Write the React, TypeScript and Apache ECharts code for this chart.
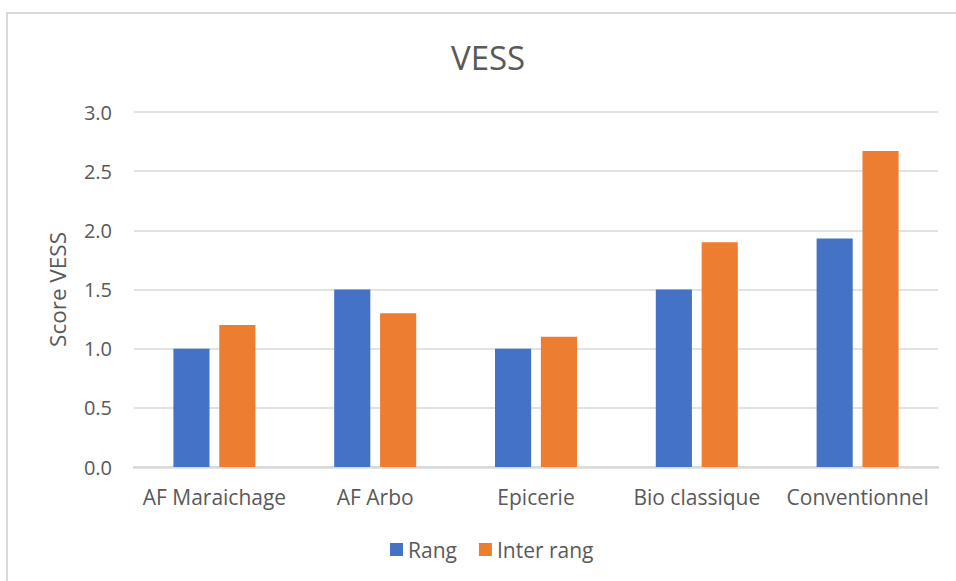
import React, { useEffect, useRef } from "react";
import * as echarts from "echarts";

const categories = ["AF Maraichage", "AF Arbo", "Epicerie", "Bio classique", "Conventionnel"];
const rangValues = [1.0, 1.5, 1.0, 1.5, 1.93];
const interRangValues = [1.2, 1.3, 1.1, 1.9, 2.67];
const seriesNames = ["Rang", "Inter rang"];
const titleText = "VESS";
const yAxisName = "Score VESS";

const FONT = "'Open Sans', 'Noto Sans', sans-serif";
const TEXT = "#595959";
const GRID = "#d9d9d9";

export default function App() {
  const ref = useRef<HTMLDivElement>(null);
  useEffect(() => {
    if (!ref.current) return;
    const chart = echarts.init(ref.current, undefined, { renderer: "svg" });
    chart.setOption({
      animation: false,
      backgroundColor: "#ffffff",
      textStyle: { fontFamily: FONT, color: TEXT },
      title: {
        text: titleText,
        left: 446,
        top: 36,
        textStyle: { fontFamily: FONT, fontSize: 33, fontWeight: "normal", color: TEXT },
      },
      graphic: [
        {
          type: "rect",
          shape: { x: 7, y: 13, width: 1200, height: 1200 },
          style: { fill: "none", stroke: GRID, lineWidth: 2 },
          silent: true,
        },
      ],
      legend: {
        bottom: 16,
        left: 385,
        itemWidth: 13,
        itemHeight: 13,
        itemGap: 22,
        icon: "rect",
        textStyle: { fontFamily: FONT, fontSize: 21, color: TEXT },
        data: seriesNames,
      },
      grid: { left: 134, right: 18, top: 112, bottom: 114 },
      xAxis: {
        type: "category",
        data: categories,
        axisLine: { show: true, lineStyle: { color: GRID, width: 2.5 } },
        axisTick: { show: false },
        axisLabel: { fontFamily: FONT, fontSize: 21, color: TEXT, margin: 19, interval: 0 },
      },
      yAxis: {
        type: "value",
        min: 0,
        max: 3,
        interval: 0.5,
        name: yAxisName,
        nameLocation: "middle",
        nameRotate: 90,
        nameGap: 65,
        nameTextStyle: { fontFamily: FONT, fontSize: 22.5, color: TEXT },
        axisLine: { show: false },
        axisTick: { show: false },
        axisLabel: {
          fontFamily: FONT,
          fontSize: 20,
          color: TEXT,
          margin: 22,
          formatter: (v: number) => v.toFixed(1),
        },
        splitLine: { lineStyle: { color: GRID, width: 1.5 } },
      },
      series: [
        {
          name: seriesNames[0],
          type: "bar",
          data: rangValues,
          barGap: "27%",
          barCategoryGap: "49%",
          itemStyle: { color: "#4472C4" },
        },
        {
          name: seriesNames[1],
          type: "bar",
          data: interRangValues,
          barGap: "27%",
          barCategoryGap: "49%",
          itemStyle: { color: "#ED7D31" },
        },
      ],
    });
    return () => chart.dispose();
  }, []);
  return (
    <div
      ref={ref}
      style={{ position: "fixed", left: 0, top: 0, width: 956, height: 581 }}
    />
  );
}
